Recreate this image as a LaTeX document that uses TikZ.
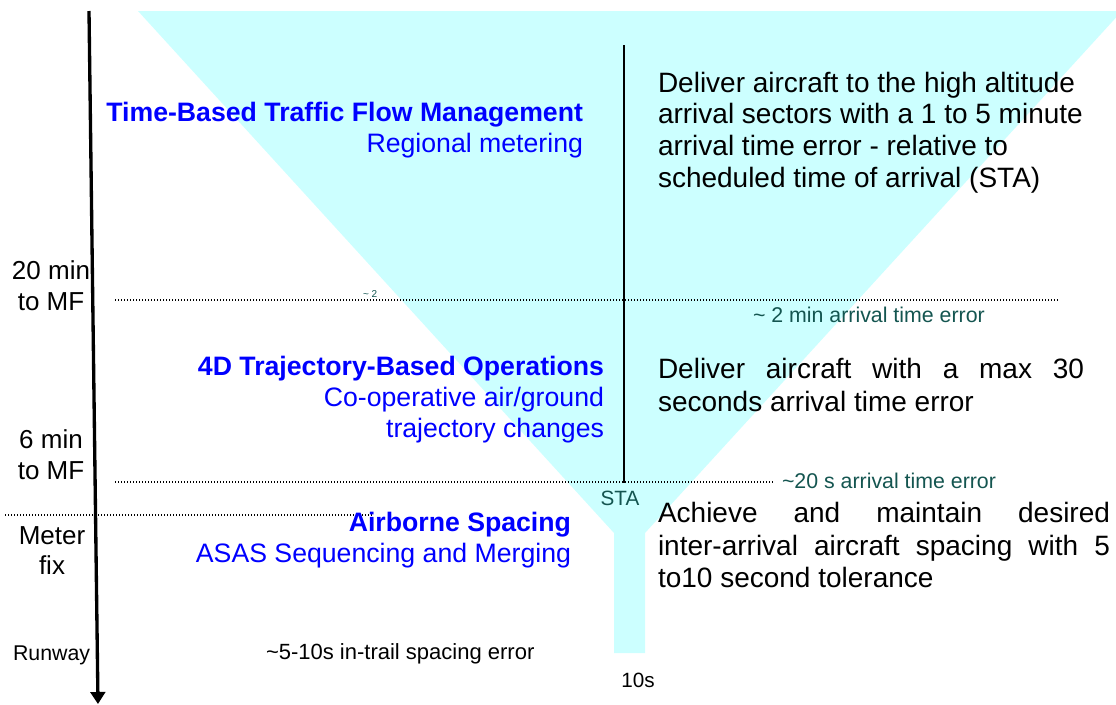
\documentclass[tikz,border=0pt]{standalone}
\usepackage{fontspec}
\setmainfont{Liberation Sans}
\usetikzlibrary{arrows.meta}
\definecolor{funnel}{HTML}{CCFFFF}
\definecolor{tblue}{HTML}{0000FF}
\definecolor{tealtxt}{RGB}{20,85,80}
\begin{document}
\begin{tikzpicture}[x=0.75pt,y=-0.75pt,
  every node/.style={inner sep=0pt, outer sep=0pt},
  title/.style={font=\fontsize{20}{23}\selectfont\bfseries, text=tblue, anchor=base east},
  sub/.style={font=\fontsize{20}{23}\selectfont, text=tblue, anchor=base east},
  desc/.style={font=\fontsize{21}{24}\selectfont, anchor=base west},
  lab/.style={font=\fontsize{19.5}{23}\selectfont, anchor=base},
  err/.style={font=\fontsize{16}{19}\selectfont, text=tealtxt, anchor=base west},
  small/.style={font=\fontsize{16.5}{19}\selectfont, anchor=base west},
  level/.style={line width=1pt, dash pattern=on 1.1pt off 1.15pt},
]
\useasboundingbox (0,0) rectangle (1116,704);
% funnel
\fill[funnel] (138,11) -- (1122,11) -- (645,533) -- (645,653) -- (614,653) -- (614,533) -- cycle;
% level lines
\coordinate (l1a) at (115,300); \coordinate (l1b) at (1058,300);
\coordinate (l2a) at (115,482); \coordinate (l2b) at (773,482);
\coordinate (l3a) at (5,515);   \coordinate (l3b) at (372,515);
\draw[level] (l1a) -- (l1b);
\draw[level] (l2a) -- (l2b);
\draw[level] (l3a) -- (l3b);
% vertical divider
\coordinate (vtop) at (624,45); \coordinate (vbot) at (624,483);
\draw[line width=1.5pt] (vtop) -- (vbot);
% time axis
\coordinate (ttop) at (89,11); \coordinate (tbot) at (98,704);
\draw[line width=2.5pt, -{Triangle[width=11pt,length=9pt]}] (ttop) -- (tbot);

% phase 1
\node[title] (t1) at (583,121) {Time-Based Traffic Flow Management};
\node[sub] (s1) at (583,152) {Regional metering};
\node[desc] (d1a) at (658,92) {Deliver aircraft to the high altitude};
\node[desc] (d1b) at (658,123) {arrival sectors with a 1 to 5 minute};
\node[desc] (d1c) at (658,155) {arrival time error - relative to};
\node[desc] (d1d) at (658,187) {scheduled time of arrival (STA)};

% left labels
\node[lab] (m20a) at (51,279) {20 min};
\node[lab] (m20b) at (51,310) {to MF};
\node[lab] (m6a) at (51,448) {6 min};
\node[lab] (m6b) at (51,479) {to MF};
\node[lab] (mfa) at (52,544) {Meter};
\node[lab] (mfb) at (52,574) {fix};
\node[small, font=\fontsize{16}{19}\selectfont] (rw) at (13,660) {Runway};

% errors
\node[font=\fontsize{7.5}{9}\selectfont, text=tealtxt, anchor=base west] (e0) at (363,297) {\textasciitilde\ 2};
\node[err] (e1) at (753,322) {\textasciitilde\ 2 min arrival time error};
\node[err] (e2) at (782,488) {\textasciitilde 20 s arrival time error};
\node[font=\fontsize{15.5}{18}\selectfont, text=tealtxt, anchor=base] (sta) at (620,505) {STA};
\node[small] (e3) at (266,659) {\textasciitilde 5-10s in-trail spacing error};
\node[font=\fontsize{15.5}{18}\selectfont, anchor=base] (e4) at (638,687) {10s};

% phase 2
\node[title] (t2) at (604,375) {4D Trajectory-Based Operations};
\node[sub] (s2a) at (604,406) {Co-operative air/ground};
\node[sub] (s2b) at (604,437) {trajectory changes};
\node[desc] (d2a) at (658,378) {\makebox[319.5pt][s]{Deliver aircraft with a max 30}};
\node[desc] (d2b) at (658,411) {seconds arrival time error};

% phase 3
\node[title] (t3) at (571,531) {Airborne Spacing};
\node[sub] (s3) at (571,562) {ASAS Sequencing and Merging};
\node[desc] (d3a) at (658,522) {\makebox[339pt][s]{Achieve and maintain desired}};
\node[desc] (d3b) at (658,555) {\makebox[339pt][s]{inter-arrival aircraft spacing with 5}};
\node[desc] (d3c) at (658,587) {to10 second tolerance};
\end{tikzpicture}
\end{document}
